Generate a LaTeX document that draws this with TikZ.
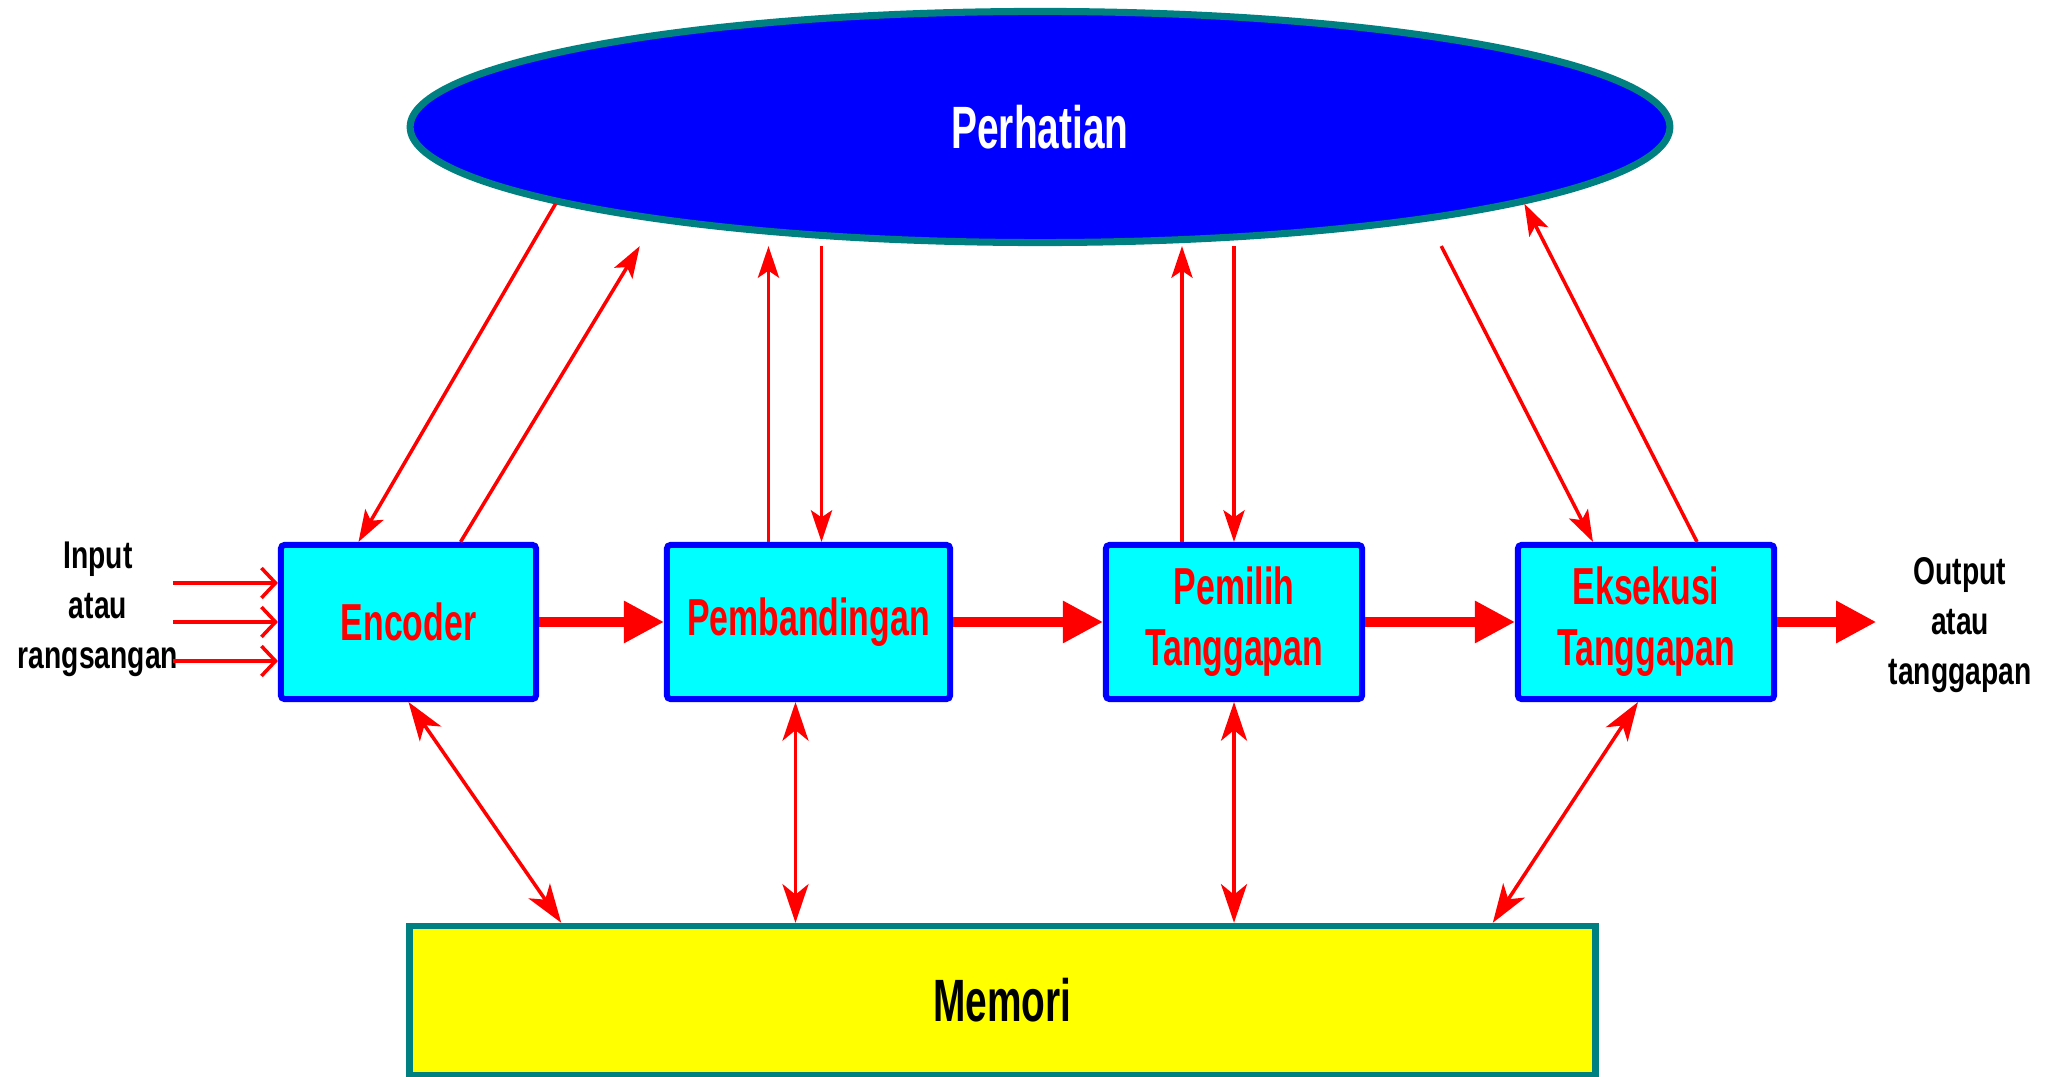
\documentclass[tikz,border=0pt]{standalone}
\usepackage{fontspec}
\setmainfont{Liberation Sans}[FakeStretch=0.65]
\newfontfamily\lblfont{Liberation Sans}[FakeStretch=0.73]
\usetikzlibrary{arrows.meta,shapes.geometric}

\definecolor{kotak}{RGB}{0,255,255}
\definecolor{biru}{RGB}{0,0,255}
\definecolor{kuning}{RGB}{255,255,0}
\definecolor{hijau}{RGB}{0,128,128}
\definecolor{merah}{RGB}{255,0,0}

\tikzset{
	blok/.style={draw=biru, fill=kotak, line width=1.7pt, rounded corners=1pt, minimum width=2.55cm, minimum height=1.54cm, inner sep=0pt, text=merah, align=center, font=\fontsize{14.8}{17.4}\selectfont\bfseries},
	lbl/.style={align=center, font=\lblfont\fontsize{11}{14.2}\selectfont\bfseries},
	tebal/.style={merah, line width=2.6pt, -{Triangle[length=11.4pt,width=11.4pt]}},
	tipis/.style={merah, line width=1pt, -{Stealth[length=9pt,width=6pt,inset=2pt]}},
	dua/.style={merah, line width=1pt, {Stealth[length=11pt,width=7.4pt,inset=3pt]}-{Stealth[length=11pt,width=7.4pt,inset=3pt]}},
	masuk/.style={merah, line width=1pt, -{Straight Barb[length=4pt,width=8.5pt]}}
}

\begin{document}
\begin{tikzpicture}[x=0.01cm, y=-0.01cm]
			%%%%% START %%%%%
			\useasboundingbox (0,0) rectangle (2049,1077);
			
			\node[ellipse, draw=hijau, fill=biru, line width=2pt, minimum width=12.59cm, minimum height=2.31cm, text=white, font=\fontsize{17}{20}\selectfont\bfseries] (att) at (1040,127) {Perhatian};
			
			\node[blok] (enc) at (408.5,622) {Encoder};
			\node[blok, minimum width=2.83cm] (pemb) at (808.5,622) {Pembandingan};
			\node[blok, minimum width=2.56cm] (pem) at (1234,622) {Pemilih\\Tanggapan};
			\node[blok, minimum width=2.56cm] (eks) at (1646,622) {Eksekusi\\Tanggapan};
			
			\node[draw=hijau, fill=kuning, line width=1.8pt, minimum width=11.85cm, minimum height=1.49cm, font=\fontsize{17}{20}\selectfont\bfseries] (mem) at (1002.5,1000.5) {Memori};
			
			\node[lbl] (inp) at (98,609) {Input\\atau\\rangsangan};
			\node[lbl] (outp) at (1960,625) {Output\\atau\\tanggapan};
			
			% input dan aliran utama
			\foreach \dy in {-0.39,0,0.39}
				\draw[masuk] ([xshift=-1.05cm,yshift=\dy cm]enc.west) -- ([yshift=\dy cm]enc.west);
			\draw[tebal] (enc) -- (pemb);
			\draw[tebal] (pemb) -- (pem);
			\draw[tebal] (pem) -- (eks);
			\draw[tebal] (eks) -- (eks -| outp.west);
			
			% ke dan dari perhatian
			\draw[tipis] (att.189) -- ([xshift=-0.5cm]enc.north);
			\draw[tipis] ([xshift=0.52cm]enc.north) -- ([xshift=-4cm]att.south);
			\draw[tipis] ([xshift=-0.4cm]pemb.north) -- ([xshift=-0.4cm]pemb.north |- att.south);
			\draw[tipis] ([xshift=0.13cm]pemb.north |- att.south) -- ([xshift=0.13cm]pemb.north);
			\draw[tipis] ([xshift=-0.52cm]pem.north) -- ([xshift=-0.52cm]pem.north |- att.south);
			\draw[tipis] (pem.north |- att.south) -- (pem.north);
			\draw[tipis] ([xshift=4.01cm]att.south) -- ([xshift=-0.53cm]eks.north);
			\draw[tipis] ([xshift=0.51cm]eks.north) -- (att.351);
			
			% ke dan dari memori
			\draw[dua] (enc.south) -- ([xshift=-4.41cm]mem.north);
			\draw[dua] ([xshift=-0.13cm]pemb.south) -- ([xshift=-0.13cm]pemb.south |- mem.north);
			\draw[dua] (pem.south) -- (pem.south |- mem.north);
			\draw[dua] ([xshift=-0.08cm]eks.south) -- ([xshift=4.9cm]mem.north);
			
			%%%%% END %%%%%
\end{tikzpicture}
\end{document}
